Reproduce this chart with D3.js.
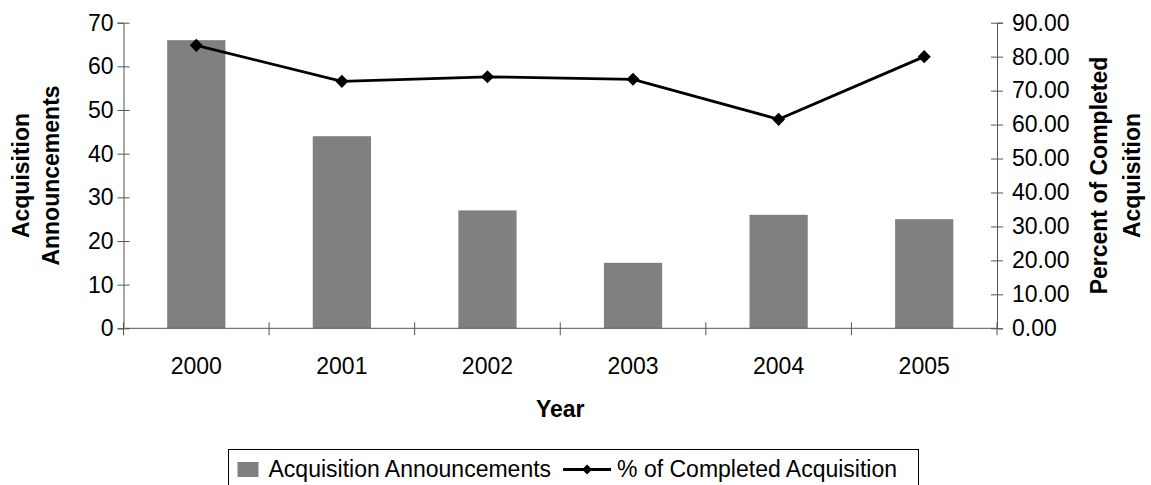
<!DOCTYPE html>
<html>
<head>
<meta charset="utf-8">
<script src="https://cdn.jsdelivr.net/npm/d3@7"></script>
<style>
  body { margin: 0; background: #fff; }
  text { font-family: "Liberation Sans", Arial, sans-serif; fill: #000; }
</style>
</head>
<body>
<div id="chart"></div>
<script>
const years = ['2000', '2001', '2002', '2003', '2004', '2005'];
const announcements = [66, 44, 27, 15, 26, 25];
const completedPct = [83.33, 72.73, 74.07, 73.33, 61.54, 80.0];
const leftTicks = [0, 10, 20, 30, 40, 50, 60, 70];
const rightTicks = [0, 10, 20, 30, 40, 50, 60, 70, 80, 90];

const width = 1151;
const height = 485;
const margin = { top: 22.7, right: 154, bottom: 156.7, left: 123.5 };
const innerW = width - margin.left - margin.right;
const innerH = height - margin.top - margin.bottom;
const axisColor = '#555';
const fontSize = '23px';

const svg = d3.select('#chart')
  .append('svg')
  .attr('width', width)
  .attr('height', height)
  .attr('viewBox', [0, 0, width, height]);

const g = svg.append('g')
  .attr('transform', `translate(${margin.left},${margin.top})`);

const x = d3.scaleBand()
  .domain(years)
  .range([0, innerW])
  .paddingInner(0.6)
  .paddingOuter(0.3);

const yLeft = d3.scaleLinear().domain([0, 70]).range([innerH, 0]);
const yRight = d3.scaleLinear().domain([0, 90]).range([innerH, 0]);

// bars
g.append('g')
  .selectAll('rect')
  .data(announcements)
  .join('rect')
  .attr('x', (d, i) => x(years[i]))
  .attr('y', d => yLeft(d))
  .attr('width', x.bandwidth())
  .attr('height', d => innerH - yLeft(d))
  .attr('fill', '#808080');

// left axis
const leftAxis = g.append('g')
  .call(d3.axisLeft(yLeft).tickValues(leftTicks).tickSize(6).tickPadding(4));
leftAxis.selectAll('.tick line').attr('x2', 6).attr('x1', -6);

// right axis
const rightAxis = g.append('g')
  .attr('transform', `translate(${innerW},0)`)
  .call(d3.axisRight(yRight).tickValues(rightTicks).tickSize(6).tickPadding(9)
    .tickFormat(d3.format('.2f')));
rightAxis.selectAll('.tick line').attr('x1', -6).attr('x2', 6);

// bottom axis: ticks between categories
const catBounds = d3.range(years.length + 1).map(i => i * innerW / years.length);
const bottom = g.append('g').attr('transform', `translate(0,${innerH})`);
bottom.append('line')
  .attr('x1', 0).attr('x2', innerW)
  .attr('stroke', axisColor);
bottom.selectAll('line.tk')
  .data(catBounds)
  .join('line')
  .attr('class', 'tk')
  .attr('x1', d => d).attr('x2', d => d)
  .attr('y1', -6).attr('y2', 7)
  .attr('stroke', axisColor);
bottom.selectAll('text')
  .data(years)
  .join('text')
  .attr('x', d => x(d) + x.bandwidth() / 2)
  .attr('y', 46)
  .attr('text-anchor', 'middle')
  .style('font-size', fontSize)
  .text(d => d);

[leftAxis, rightAxis].forEach(ax => {
  ax.select('.domain').attr('stroke', axisColor);
  ax.selectAll('.tick line').attr('stroke', axisColor);
  ax.selectAll('.tick text').style('font-size', fontSize).attr('fill', '#000')
    .style('font-family', '"Liberation Sans", Arial, sans-serif');
});

// line series
const linePts = completedPct.map((v, i) => [x(years[i]) + x.bandwidth() / 2, yRight(v)]);
g.append('path')
  .datum(linePts)
  .attr('d', d3.line())
  .attr('fill', 'none')
  .attr('stroke', '#000')
  .attr('stroke-width', 2.8);

const diamond = d3.symbol().type(d3.symbolDiamond2).size(110);
g.append('g')
  .selectAll('path')
  .data(linePts)
  .join('path')
  .attr('transform', d => `translate(${d[0]},${d[1]})`)
  .attr('d', diamond)
  .attr('fill', '#000');

// axis titles
const midY = margin.top + innerH / 2;
function vTitle (cx, label) {
  svg.append('text')
    .attr('transform', `translate(${cx},${midY}) rotate(-90)`)
    .attr('text-anchor', 'middle')
    .style('font-size', fontSize).style('font-weight', 'bold')
    .text(label);
}
vTitle(29, 'Acquisition');
vTitle(59, 'Announcements');
vTitle(1107, 'Percent of Completed');
vTitle(1140, 'Acquisition');

svg.append('text')
  .attr('x', margin.left + innerW / 2)
  .attr('y', 417)
  .attr('text-anchor', 'middle')
  .style('font-size', fontSize).style('font-weight', 'bold')
  .text('Year');

// legend
const legend = svg.append('g');
const boxX = 228.5;
const boxW = 690;
legend.append('rect')
  .attr('x', boxX).attr('y', 449.5)
  .attr('width', boxW).attr('height', 45)
  .attr('fill', '#fff')
  .attr('stroke', '#000');
const swatch = legend.append('rect')
  .attr('y', 462).attr('width', 21).attr('height', 15)
  .attr('fill', '#808080');
const t1 = legend.append('text')
  .attr('y', 477)
  .style('font-size', fontSize)
  .text('Acquisition Announcements');
const t2 = legend.append('text')
  .attr('y', 477)
  .style('font-size', fontSize)
  .text('% of Completed Acquisition');
const w1 = t1.node().getComputedTextLength();
let cx = boxX + 9;
swatch.attr('x', cx);
cx += 31;
t1.attr('x', cx);
cx += w1 + 12;
legend.append('line')
  .attr('x1', cx).attr('x2', cx + 48)
  .attr('y1', 469.5).attr('y2', 469.5)
  .attr('stroke', '#000').attr('stroke-width', 2.8);
legend.append('path')
  .attr('transform', `translate(${cx + 24},469.5)`)
  .attr('d', d3.symbol().type(d3.symbolDiamond2).size(65))
  .attr('fill', '#000');
cx += 54;
t2.attr('x', cx);
</script>
</body>
</html>
